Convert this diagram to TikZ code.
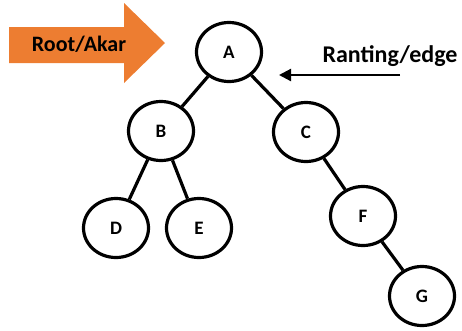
\documentclass[tikz,border=0pt]{standalone}
\usepackage{fontspec}
\setmainfont{Carlito}
\usetikzlibrary{shapes.geometric,arrows.meta}
\definecolor{arroworange}{HTML}{ED7D31}
\tikzset{
  treenode/.style={ellipse, draw, line width=3.2pt, minimum width=65pt, minimum height=59pt,
    inner sep=0pt, font=\fontsize{19}{22}\selectfont\bfseries},
  treeedge/.style={line width=3.2pt},
  label text/.style={font=\fontsize{22}{26}\selectfont\bfseries, inner sep=0pt}
}
\begin{document}
\begin{tikzpicture}[x=1pt, y=-1pt]
  \useasboundingbox (0,0) rectangle (462,330);
  % block arrow pointing at the root
  \fill[arroworange] (9,27) -- (124,27) -- (124,3) -- (165,43) -- (124,83) -- (124,63) -- (9,63) -- cycle;
  \node[label text] (rootlbl) at (79,44) {Root/Akar};

  % tree nodes
  \node[treenode] (A) at (229,52) {A};
  \node[treenode] (B) at (161,131) {B};
  \node[treenode] (C) at (306,132) {C};
  \node[treenode] (D) at (116,228) {D};
  \node[treenode] (E) at (199,228) {E};
  \node[treenode] (F) at (363,216) {F};
  \node[treenode] (G) at (422,296) {G};

  % edges
  \draw[treeedge] (A) -- (B);
  \draw[treeedge] (A) -- (C);
  \draw[treeedge] (B) -- (D);
  \draw[treeedge] (B) -- (E);
  \draw[treeedge] (C) -- (F);
  \draw[treeedge] (F) -- (G);

  % edge label with pointer
  \node[label text, font=\fontsize{24}{28}\selectfont\bfseries] (edgelbl) at (390,56) {Ranting/edge};
  \coordinate (ptrstart) at (400,75);
  \coordinate (ptrend) at (279,75);
  \draw[line width=2.2pt, -{Triangle[length=12pt,width=12pt]}] (ptrstart) -- (ptrend);
\end{tikzpicture}
\end{document}
